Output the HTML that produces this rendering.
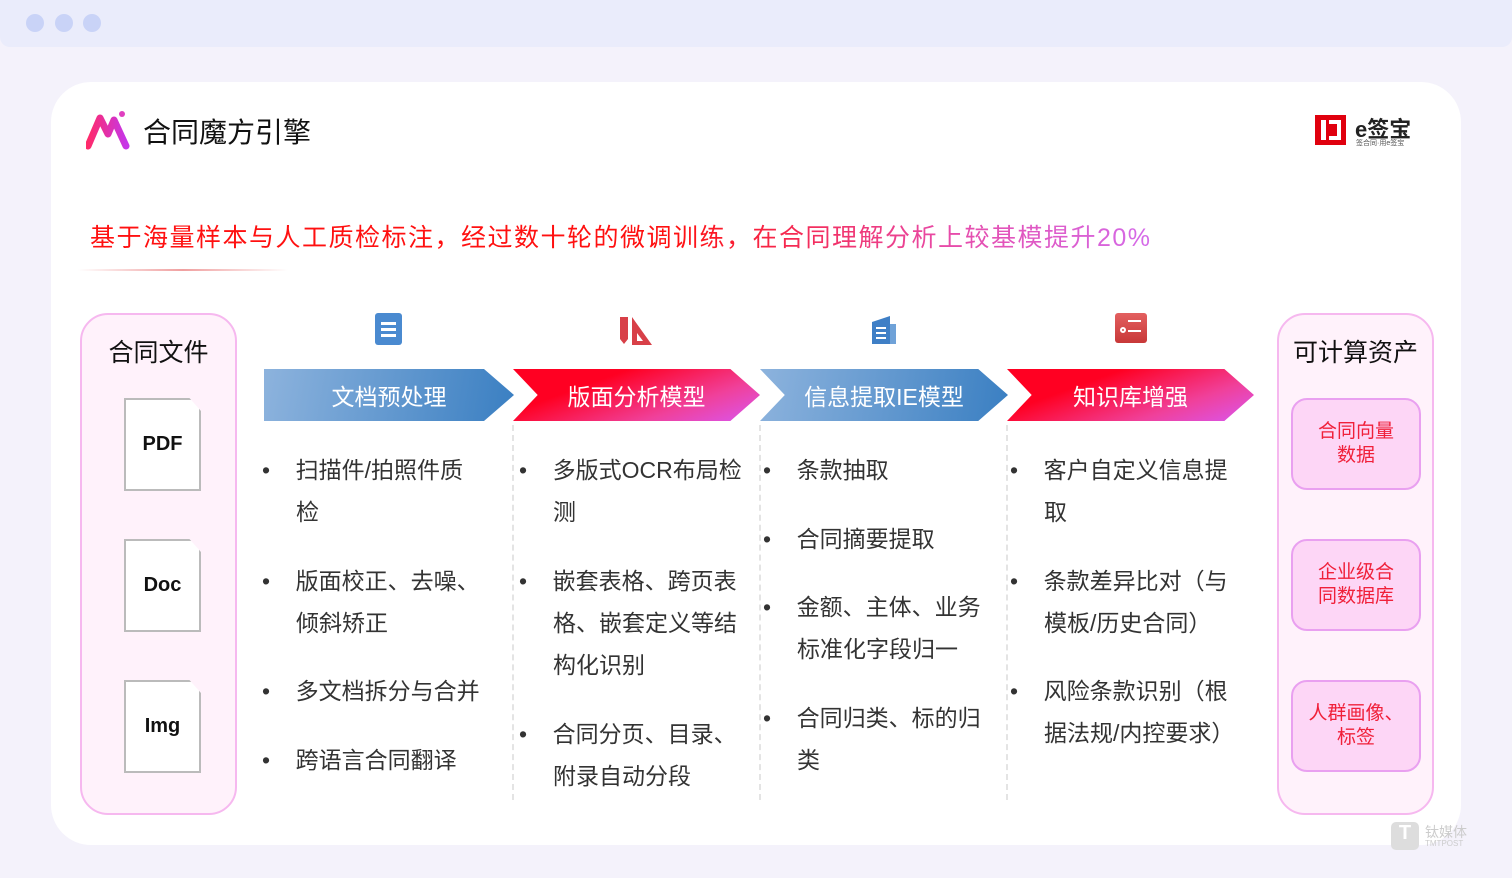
<!DOCTYPE html>
<html><head><meta charset="utf-8"><style>
*{margin:0;padding:0;box-sizing:border-box}
body{width:1512px;height:878px;background:#f4f2fb;font-family:"Liberation Sans","Noto Sans CJK SC",sans-serif;position:relative;overflow:hidden}
.a{position:absolute}
.top{left:0;top:0;width:1512px;height:47px;background:#eaecfb;border-radius:0 0 10px 10px}
.dot{width:18px;height:18px;border-radius:50%;background:#c9d3f7;top:14px}
.card{left:51px;top:82px;width:1410px;height:763px;background:#fff;border-radius:40px}
.t{font-size:23px;color:#333;line-height:42px;white-space:nowrap}
.arrow{top:369px;height:52px;color:#fff;font-size:23px;display:flex;align-items:center;justify-content:center}
.blue{background:linear-gradient(100deg,#8db3dd,#3a7fc2)}
.red{background:linear-gradient(160deg,#ff0022 30%,#f0409a 70%,#d956f0)}
.panel{top:313px;width:157px;height:502px;background:#fff2fb;border:2px solid #f6b8ef;border-radius:28px}
.ph{font-size:25px;color:#111;text-align:center;width:100%;position:absolute;top:18px}
.doc{left:42px;width:77px;height:93px;background:#fff;border:2px solid #bbb;clip-path:polygon(0 0,85% 0,100% 14%,100% 100%,0 100%);font-size:20px;font-weight:bold;display:flex;align-items:center;justify-content:center;color:#111}
.box{left:12px;width:130px;height:92px;background:#fdd6f6;border:2px solid #e9a0f0;border-radius:16px;color:#f0203a;font-size:19px;text-align:center;line-height:24px;display:flex;align-items:center;justify-content:center}
.sep{top:425px;height:375px;border-left:2px dashed #e4e4e4}
</style></head><body>
<div class="a top"></div>
<div class="a dot" style="left:26px"></div><div class="a dot" style="left:55px"></div><div class="a dot" style="left:83px"></div>
<div class="a card"></div>
<svg class="a" style="left:86px;top:110px" width="44" height="40"><defs><linearGradient id="g" x1="0" x2="1"><stop offset="0" stop-color="#ff2a6a"/><stop offset="1" stop-color="#c636e8"/></linearGradient></defs><path d="M2 36 L14 8 L22 24 L28 10 L40 36" stroke="url(#g)" stroke-width="7" fill="none" stroke-linecap="round" stroke-linejoin="round"/><circle cx="36" cy="4" r="3" fill="#e040c0"/></svg>
<div class="a" style="left:143px;top:111px;font-size:28px;color:#111">合同魔方引擎</div>
<div class="a" style="left:1315px;top:115px;width:31px;height:30px;background:#e0000e"></div>
<div class="a" style="left:1321px;top:120px;width:5px;height:20px;background:#fff"></div>
<div class="a" style="left:1329px;top:120px;width:12px;height:20px;border:4px solid #fff;border-left:none"></div>
<div class="a" style="left:1355px;top:112px;font-size:22px;font-weight:bold;color:#222">e签宝</div>
<div class="a" style="left:1356px;top:138px;font-size:7px;color:#555">签合同·用e签宝</div>
<div class="a" style="left:90px;top:218px;font-size:25px;letter-spacing:1.5px;white-space:nowrap;background:linear-gradient(90deg,#ff1010 55%,#e84aa6 80%,#d46bea);-webkit-background-clip:text;color:transparent">基于海量样本与人工质检标注，经过数十轮的微调训练，在合同理解分析上较基模提升20%</div>
<div class="a" style="left:78px;top:269px;width:210px;height:2px;background:linear-gradient(90deg,#fff,#f0a0a0,#fff)"></div>

<div class="a panel" style="left:80px"><div class="ph">合同文件</div>
<div class="a doc" style="top:83px">PDF</div><div class="a doc" style="top:224px">Doc</div><div class="a doc" style="top:365px">Img</div></div>
<div class="a panel" style="left:1277px"><div class="ph">可计算资产</div>
<div class="a box" style="top:83px">合同向量<br>数据</div><div class="a box" style="top:224px">企业级合<br>同数据库</div><div class="a box" style="top:365px">人群画像、<br>标签</div></div>

<div class="a" style="left:375px;top:313px;width:27px;height:32px;background:#4a8ad0;border-radius:3px"></div>
<div class="a" style="left:381px;top:322px;width:15px;height:3px;background:#fff;box-shadow:0 6px #fff,0 12px #fff"></div>
<svg class="a" style="left:620px;top:313px" width="32" height="32"><path d="M0 4h8v22l-4 5-4-5z" fill="#d84048"/><path d="M12 4 L32 32 H12z" fill="#d84048"/><path d="M17 20 L23 28 H17z" fill="#fff"/></svg>
<svg class="a" style="left:868px;top:312px" width="32" height="34"><path d="M4 10 L22 4 V32 H4z" fill="#3f7fc6"/><path d="M22 12 h6 v20 h-6z" fill="#6fa2d8"/><path d="M8 16h10M8 21h10M8 26h10" stroke="#fff" stroke-width="2"/></svg>
<div class="a" style="left:1115px;top:313px;width:32px;height:30px;background:linear-gradient(#e36060,#c83838);border-radius:3px"></div>
<div class="a" style="left:1128px;top:320px;width:13px;height:2px;background:#fff;box-shadow:0 10px #fff"></div>
<div class="a" style="left:1120px;top:327px;width:6px;height:6px;border:2px solid #fff;border-radius:50%"></div>

<div class="a arrow blue" style="left:264px;width:250px;clip-path:polygon(0 0,88% 0,100% 50%,88% 100%,0 100%)">文档预处理</div>
<div class="a arrow red" style="left:513px;width:247px;clip-path:polygon(0 0,88% 0,100% 50%,88% 100%,0 100%,10% 50%)">版面分析模型</div>
<div class="a arrow blue" style="left:760px;width:248px;clip-path:polygon(0 0,88% 0,100% 50%,88% 100%,0 100%,10% 50%)">信息提取IE模型</div>
<div class="a arrow red" style="left:1007px;width:247px;clip-path:polygon(0 0,88% 0,100% 50%,88% 100%,0 100%,10% 50%)">知识库增强</div>

<div class="a sep" style="left:512px"></div><div class="a sep" style="left:759px"></div><div class="a sep" style="left:1006px"></div>

<div class="a t" style="left:262px;top:449px">•&nbsp;&nbsp;&nbsp;&nbsp;扫描件/拍照件质<br><span style="padding-left:34px">检</span></div>
<div class="a t" style="left:262px;top:560px">•&nbsp;&nbsp;&nbsp;&nbsp;版面校正、去噪、<br><span style="padding-left:34px">倾斜矫正</span></div>
<div class="a t" style="left:262px;top:670px">•&nbsp;&nbsp;&nbsp;&nbsp;多文档拆分与合并</div>
<div class="a t" style="left:262px;top:739px">•&nbsp;&nbsp;&nbsp;&nbsp;跨语言合同翻译</div>

<div class="a t" style="left:519px;top:449px">•&nbsp;&nbsp;&nbsp;&nbsp;多版式OCR布局检<br><span style="padding-left:34px">测</span></div>
<div class="a t" style="left:519px;top:560px">•&nbsp;&nbsp;&nbsp;&nbsp;嵌套表格、跨页表<br><span style="padding-left:34px">格、嵌套定义等结</span><br><span style="padding-left:34px">构化识别</span></div>
<div class="a t" style="left:519px;top:713px">•&nbsp;&nbsp;&nbsp;&nbsp;合同分页、目录、<br><span style="padding-left:34px">附录自动分段</span></div>

<div class="a t" style="left:763px;top:449px">•&nbsp;&nbsp;&nbsp;&nbsp;条款抽取</div>
<div class="a t" style="left:763px;top:518px">•&nbsp;&nbsp;&nbsp;&nbsp;合同摘要提取</div>
<div class="a t" style="left:763px;top:586px">•&nbsp;&nbsp;&nbsp;&nbsp;金额、主体、业务<br><span style="padding-left:34px">标准化字段归一</span></div>
<div class="a t" style="left:763px;top:697px">•&nbsp;&nbsp;&nbsp;&nbsp;合同归类、标的归<br><span style="padding-left:34px">类</span></div>

<div class="a t" style="left:1010px;top:449px">•&nbsp;&nbsp;&nbsp;&nbsp;客户自定义信息提<br><span style="padding-left:34px">取</span></div>
<div class="a t" style="left:1010px;top:560px">•&nbsp;&nbsp;&nbsp;&nbsp;条款差异比对（与<br><span style="padding-left:34px">模板/历史合同）</span></div>
<div class="a t" style="left:1010px;top:670px">•&nbsp;&nbsp;&nbsp;&nbsp;风险条款识别（根<br><span style="padding-left:34px">据法规/内控要求）</span></div>

<div class="a" style="left:1391px;top:822px;width:28px;height:28px;background:#ddd;border-radius:5px;color:#fff;font-weight:bold;text-align:center;font-size:20px">T</div>
<div class="a" style="left:1425px;top:822px;font-size:14px;color:#ccc">钛媒体</div>
<div class="a" style="left:1425px;top:839px;font-size:8px;color:#ccc">TMTPOST</div>
</body></html>
